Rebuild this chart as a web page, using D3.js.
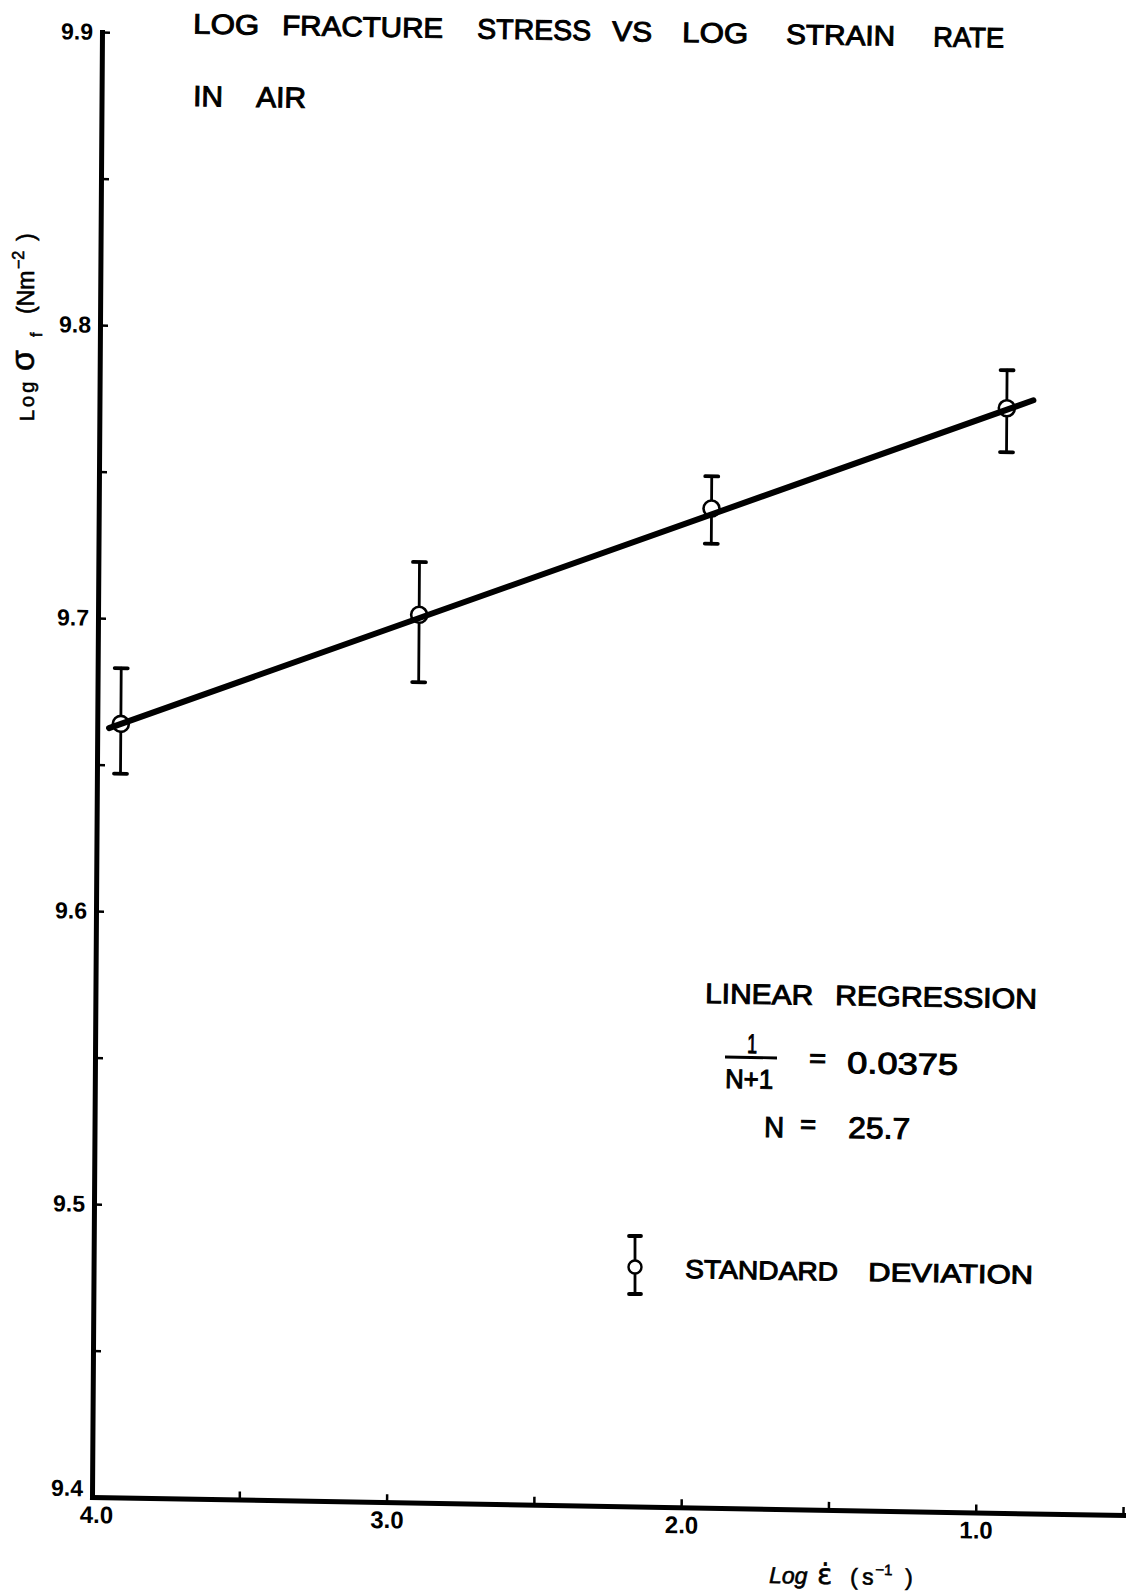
<!DOCTYPE html>
<html>
<head>
<meta charset="utf-8">
<script src="https://cdn.jsdelivr.net/npm/d3@7"></script>
<style>
  body { margin: 0; background: #fff; }
  svg { display: block; background: #fff; }
</style>
</head>
<body>
<svg id="chart" width="1136" height="1591"></svg>
<script>
// Log strain rate (s^-1) of each test series
const strainRate = [3.92, 2.91, 1.92, 0.92];
// Mean log fracture stress (N m^-2) of each series
const fractureStress = [9.664, 9.703, 9.741, 9.777];
// Standard deviation above and below each mean
const sdUpper = [0.019, 0.018, 0.011, 0.013];
const sdLower = [0.017, 0.023, 0.012, 0.015];

// Linear regression: slope 1/(N+1) = 0.0375, N = 25.7
const regressionSlope = 0.0375;
const regressionIntercept = 9.811;
const fitRange = [3.96, 0.83];

// Axis ticks and their labels
const xTickValues = [4.0, 3.5, 3.0, 2.5, 2.0, 1.5, 1.0, 0.5];
const xTickLabels = ["4.0", "", "3.0", "", "2.0", "", "1.0", ""];
const yTickValues = [9.4, 9.45, 9.5, 9.55, 9.6, 9.65, 9.7, 9.75, 9.8, 9.85, 9.9];
const yTickLabels = ["9.4", "", "9.5", "", "9.6", "", "9.7", "", "9.8", "", "9.9"];

const FONT = "'Liberation Sans', Arial, sans-serif";
const svg = d3.select("#chart");

// The drafted axes are not quite square to the sheet: draw the plot in its own frame
const frame = svg.append("g")
  .attr("transform", "matrix(1,0.01746,-0.00682,1,92,1497)");

const x = d3.scaleLinear().domain([4.0, 0.5]).range([0, 1031]);
const y = d3.scaleLinear().domain([9.4, 9.9]).range([0, -1465]);

// x axis, ticks pointing into the plot
const gx = frame.append("g")
  .call(d3.axisBottom(x)
    .tickValues(xTickValues)
    .tickFormat((d, i) => xTickLabels[i])
    .tickSizeInner(-8).tickSizeOuter(0).tickPadding(9));
gx.select(".domain").attr("stroke", "#000").attr("stroke-width", 5).attr("stroke-linecap", "square");
gx.selectAll(".tick line").attr("stroke", "#000").attr("stroke-width", 2.5);
gx.selectAll(".tick text")
  .attr("font-family", FONT).attr("font-size", 24).attr("font-weight", "bold")
  .attr("fill", "#000")
  .attr("dx", d => d === 4.0 ? 4 : 0);

// y axis
const gy = frame.append("g")
  .call(d3.axisLeft(y)
    .tickValues(yTickValues)
    .tickFormat((d, i) => yTickLabels[i])
    .tickSizeInner(-8).tickSizeOuter(0).tickPadding(9));
gy.select(".domain").attr("stroke", "#000").attr("stroke-width", 5).attr("stroke-linecap", "square");
gy.selectAll(".tick line").attr("stroke", "#000").attr("stroke-width", 2.5);
gy.selectAll(".tick text")
  .attr("font-family", FONT).attr("font-size", 23).attr("font-weight", "bold")
  .attr("fill", "#000")
  .attr("dy", d => d === 9.4 ? "-0.05em" : "0.32em");

// standard deviation bars
const idx = d3.range(strainRate.length);
const capHalf = 6.5;
const bars = frame.append("g").attr("stroke", "#000").attr("stroke-linecap", "round");
bars.selectAll("line.sd").data(idx).join("line").attr("class", "sd")
  .attr("x1", i => x(strainRate[i])).attr("x2", i => x(strainRate[i]))
  .attr("y1", i => y(fractureStress[i] + sdUpper[i]))
  .attr("y2", i => y(fractureStress[i] - sdLower[i]))
  .attr("stroke-width", 2.8);
bars.selectAll("line.capTop").data(idx).join("line").attr("class", "capTop")
  .attr("x1", i => x(strainRate[i]) - capHalf).attr("x2", i => x(strainRate[i]) + capHalf)
  .attr("y1", i => y(fractureStress[i] + sdUpper[i]))
  .attr("y2", i => y(fractureStress[i] + sdUpper[i]))
  .attr("stroke-width", 3.8);
bars.selectAll("line.capBot").data(idx).join("line").attr("class", "capBot")
  .attr("x1", i => x(strainRate[i]) - capHalf).attr("x2", i => x(strainRate[i]) + capHalf)
  .attr("y1", i => y(fractureStress[i] - sdLower[i]))
  .attr("y2", i => y(fractureStress[i] - sdLower[i]))
  .attr("stroke-width", 3.8);

// mean values
frame.append("g").selectAll("circle").data(idx).join("circle")
  .attr("cx", i => x(strainRate[i]))
  .attr("cy", i => y(fractureStress[i]))
  .attr("r", 8)
  .attr("fill", "#fff").attr("stroke", "#000").attr("stroke-width", 2.6);

// regression line
const fit = u => regressionIntercept - regressionSlope * u;
frame.append("path")
  .datum(fitRange)
  .attr("d", d3.line().x(u => x(u)).y(u => y(fit(u))))
  .attr("fill", "none").attr("stroke", "#000")
  .attr("stroke-width", 6).attr("stroke-linecap", "round");

// lettering, following the same slight tilt as the x axis
const TILT = 1.0;
function word(str, x0, x1, yb, size, weight) {
  return svg.append("text")
    .attr("x", x0).attr("y", yb)
    .attr("transform", `rotate(${TILT},${x0},${yb})`)
    .attr("font-family", FONT).attr("font-size", size)
    .attr("font-weight", weight || "normal")
    .attr("textLength", x1 - x0).attr("lengthAdjust", "spacingAndGlyphs")
    .attr("fill", "#000").attr("stroke", "#000").attr("stroke-width", 1)
    .text(str);
}
const titleY = xp => 33.5 + (xp - 193) * 0.01746;
[["LOG", 193, 259], ["FRACTURE", 282, 443], ["STRESS", 477, 591], ["VS", 612, 652],
 ["LOG", 682, 748], ["STRAIN", 786, 895], ["RATE", 933, 1004]]
  .forEach(([s, a, b]) => word(s, a, b, titleY(a), 28));
word("IN", 193, 223, 106, 29);
word("AIR", 256, 306, 107, 29);

// regression summary
word("LINEAR", 705, 813, 1003, 28);
word("REGRESSION", 835, 1037, 1005, 28);
word("1", 747, 757, 1053, 27);
svg.append("line").attr("x1", 725).attr("x2", 777).attr("y1", 1057).attr("y2", 1058)
  .attr("stroke", "#000").attr("stroke-width", 2.8);
word("N+1", 725, 773, 1088, 27);
word("=", 809, 826, 1067, 26);
word("0.0375", 847, 958, 1073, 30);
word("N", 764, 784, 1137, 29);
word("=", 800, 816, 1133, 26);
word("25.7", 848, 910, 1138, 30);

// legend
const key = svg.append("g").attr("stroke", "#000").attr("stroke-linecap", "round");
key.append("line").attr("x1", 635).attr("x2", 635).attr("y1", 1236).attr("y2", 1294).attr("stroke-width", 2.8);
key.append("line").attr("x1", 629).attr("x2", 641).attr("y1", 1236).attr("y2", 1236).attr("stroke-width", 3.8);
key.append("line").attr("x1", 629).attr("x2", 641).attr("y1", 1294).attr("y2", 1294).attr("stroke-width", 3.8);
key.append("circle").attr("cx", 635).attr("cy", 1267).attr("r", 6.5)
  .attr("fill", "#fff").attr("stroke-width", 2.4);
word("STANDARD", 685, 838, 1278, 26);
word("DEVIATION", 868, 1033, 1281, 26);

// y axis title
const yt = svg.append("text")
  .attr("transform", "translate(34,421) rotate(-90)")
  .attr("font-family", FONT).attr("fill", "#000")
  .attr("stroke", "#000").attr("stroke-width", 0.6);
yt.append("tspan").attr("x", 0).attr("font-size", 20).attr("letter-spacing", 3).text("Log");
yt.append("tspan").attr("x", 50).attr("font-size", 34).text("σ");
yt.append("tspan").attr("x", 84).attr("dy", 8).attr("font-size", 16).text("f");
yt.append("tspan").attr("x", 107).attr("dy", -8).attr("font-size", 23).text("(Nm");
yt.append("tspan").attr("x", 152).attr("dy", -10).attr("font-size", 16).text("−2");
yt.append("tspan").attr("x", 180).attr("dy", 10).attr("font-size", 23).text(")");

// x axis title
const xt = svg.append("text")
  .attr("transform", `translate(769,1583) rotate(${TILT})`)
  .attr("font-family", FONT).attr("fill", "#000")
  .attr("stroke", "#000").attr("stroke-width", 0.6);
xt.append("tspan").attr("x", 0).attr("font-size", 23).attr("font-style", "italic").text("Log");
xt.append("tspan").attr("x", 48).attr("font-size", 28).attr("font-family", "'DejaVu Sans', sans-serif").text("ε\u0307");
xt.append("tspan").attr("x", 81).attr("font-size", 23).text("(");
xt.append("tspan").attr("x", 93).attr("font-size", 23).text("s");
xt.append("tspan").attr("x", 106).attr("dy", -10).attr("font-size", 15).text("−1");
xt.append("tspan").attr("x", 136).attr("dy", 10).attr("font-size", 23).text(")");
</script>
</body>
</html>
